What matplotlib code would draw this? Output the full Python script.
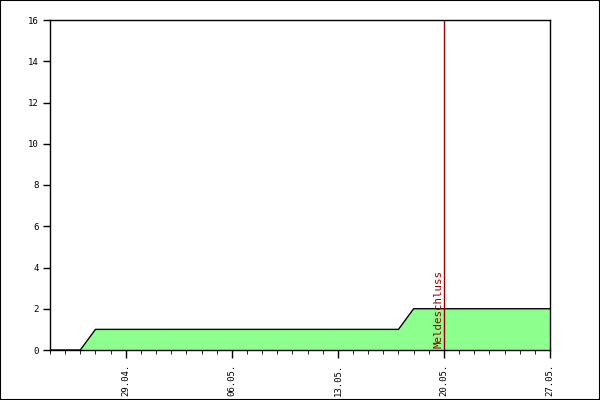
import datetime as dt

import matplotlib
matplotlib.use("Agg")
import matplotlib.pyplot as plt
import matplotlib.dates as mdates
from matplotlib.patches import Rectangle

# daily registration count, 24.04. .. 27.05.
START = dt.date(2024, 4, 24)
COUNTS = [0, 0, 0, 1, 1, 1, 1, 1, 1, 1,
          1, 1, 1, 1, 1, 1, 1, 1, 1, 1,
          1, 1, 1, 1, 2, 2, 2, 2, 2, 2,
          2, 2, 2, 2]
DEADLINE = dt.date(2024, 5, 20)
DEADLINE_LABEL = "Meldeschluss"
MAJOR_TICKS = [dt.date(2024, 4, 29), dt.date(2024, 5, 6), dt.date(2024, 5, 13),
               dt.date(2024, 5, 20), dt.date(2024, 5, 27)]
Y_TICKS = [0, 2, 4, 6, 8, 10, 12, 14, 16]

days = [START + dt.timedelta(days=i) for i in range(len(COUNTS))]
mono = "DejaVu Sans Mono"

fig = plt.figure(figsize=(6, 4), dpi=100)
ax = fig.add_axes([50 / 600, 50 / 400, 500 / 600, 330 / 400])
fig.patches.append(Rectangle((0, 0), 1, 1, transform=fig.transFigure,
                             fill=False, edgecolor="black", linewidth=1.5))

ax.fill_between(days, COUNTS, 0, color="#8cff8c", linewidth=0)
ax.plot(days, COUNTS, color="black", linewidth=1)

ax.axvline(DEADLINE, color="#9a0000", linewidth=1)
ax.text(DEADLINE - dt.timedelta(hours=2), 0.12, DEADLINE_LABEL, rotation=90,
        ha="right", va="bottom", color="#9a0000", family=mono, fontsize=7.8)

ax.set_xlim(days[0], days[-1])
ax.set_ylim(0, 16)
ax.set_yticks(Y_TICKS)
ax.set_xticks(MAJOR_TICKS)
ax.xaxis.set_minor_locator(mdates.DayLocator())
ax.xaxis.set_major_formatter(mdates.DateFormatter("%d.%m."))
for lab in ax.get_xticklabels():
    lab.set_rotation(90)
ax.tick_params(axis="both", labelsize=6.5, width=1, color="black", direction="out")
ax.tick_params(axis="x", which="major", length=6, pad=4)
ax.tick_params(axis="x", which="minor", length=3)
ax.tick_params(axis="y", length=5, pad=3)
for lab in ax.get_xticklabels() + ax.get_yticklabels():
    lab.set_family(mono)
for sp in ax.spines.values():
    sp.set_linewidth(1)

fig.savefig("out.png", dpi=100)
